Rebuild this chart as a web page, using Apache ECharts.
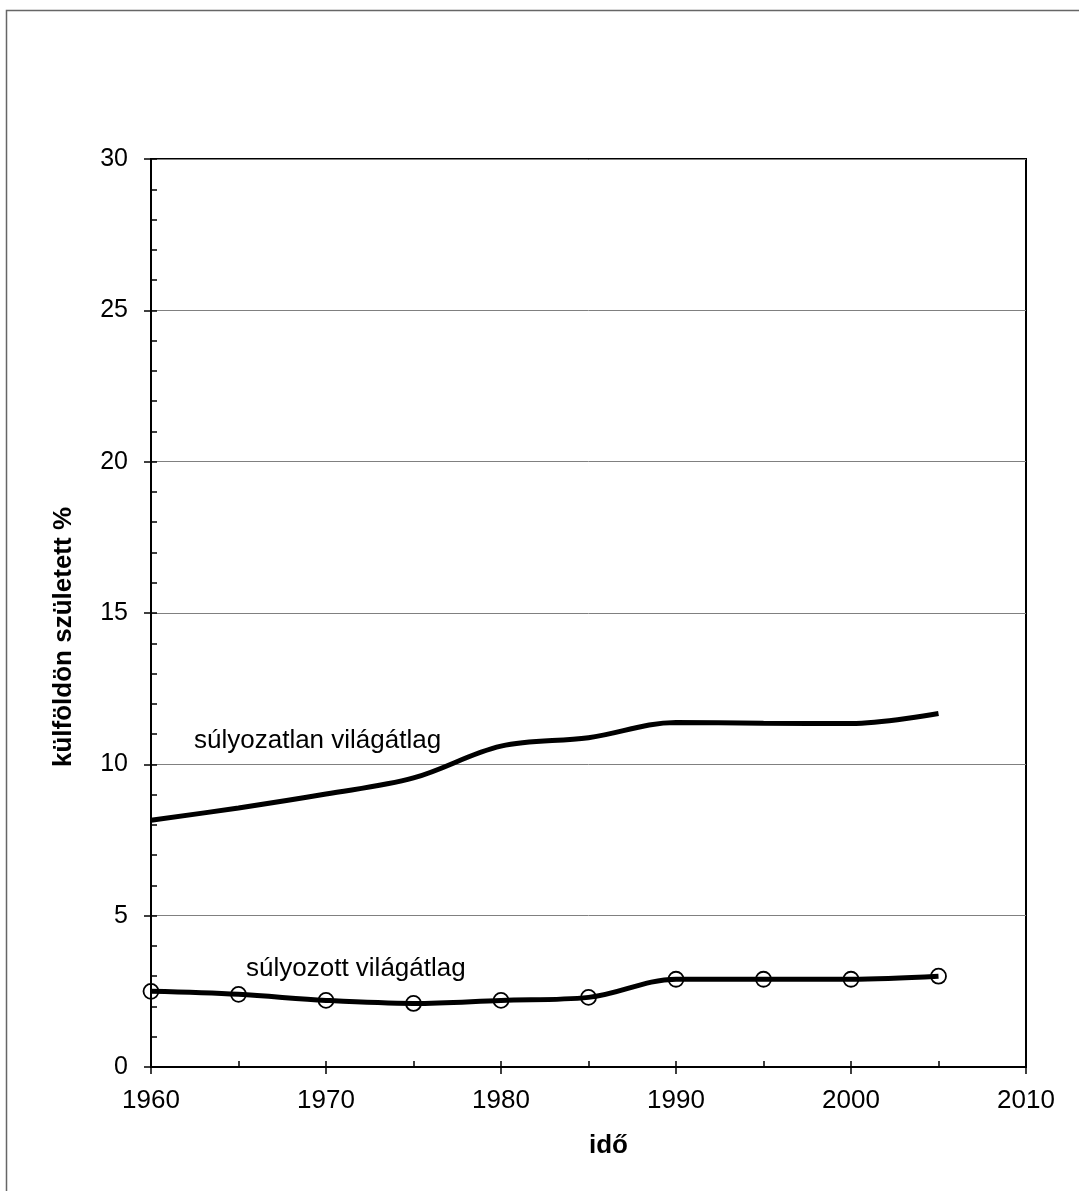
<!DOCTYPE html>
<html>
<head>
    <meta charset="utf-8">
    <script src="https://cdn.jsdelivr.net/npm/echarts@6/dist/echarts.min.js"></script>
    <style>body{margin:0;background:#fff;}</style>
</head>
<body>
    <div id="main" style="width: 1079px;height:1191px;"></div>
    <script type="text/javascript">

    var years = [1960, 1965, 1970, 1975, 1980, 1985, 1990, 1995, 2000, 2005];
    var unweighted = [8.15, 8.56, 9.02, 9.55, 10.6, 10.88, 11.38, 11.36, 11.35, 11.68];
    var weighted = [2.5, 2.4, 2.2, 2.1, 2.2, 2.3, 2.9, 2.9, 2.9, 3.0];
    var yTicks = [0, 5, 10, 15, 20, 25, 30];

    function pairs(vals) {
        return years.map(function (y, i) { return [y, vals[i]]; });
    }

    var font = 'Liberation Sans, Arial, sans-serif';
    var myChart = echarts.init(document.getElementById('main'));

    myChart.setOption({
        backgroundColor: '#fff',
        animation: false,
        grid: {
            left: 151, top: 159, width: 875, height: 908,
            show: true, borderColor: '#000', borderWidth: 2
        },
        xAxis: [{
            type: 'value', min: 1960, max: 2010, interval: 10,
            name: 'idő', nameLocation: 'middle', nameGap: 66, nameMoveOverlap: false,
            nameTextStyle: {fontFamily: font, fontSize: 26, fontWeight: 'bold', color: '#000', padding: [0, 0, 0, 40]},
            axisLine: {lineStyle: {color: '#000', width: 2}},
            axisTick: {inside: false, length: 7, lineStyle: {color: '#000', width: 1.5}},
            axisLabel: {fontFamily: font, fontSize: 26, color: '#000', margin: 21,
                formatter: function (v) { return String(v); }},
            splitLine: {show: false}
        }, {
            type: 'value', min: 1960, max: 2010, interval: 5, position: 'bottom',
            axisLine: {show: false},
            axisTick: {inside: true, length: 6, lineStyle: {color: '#000', width: 1.5}},
            axisLabel: {show: false},
            splitLine: {show: false}
        }],
        yAxis: [{
            type: 'value', min: yTicks[0], max: yTicks[yTicks.length - 1], interval: 5,
            name: 'külföldön született %', nameLocation: 'middle', nameGap: 74, nameRotate: 90,
            nameMoveOverlap: false,
            nameTextStyle: {fontFamily: font, fontSize: 26, fontWeight: 'bold', color: '#000', padding: [0, 48, 0, 0]},
            axisLine: {lineStyle: {color: '#000', width: 2}},
            axisTick: {inside: false, length: 7, lineStyle: {color: '#000', width: 1.5}},
            axisLabel: {fontFamily: font, fontSize: 25, color: '#000', margin: 23},
            splitLine: {lineStyle: {color: '#808080', width: 1}}
        }, {
            type: 'value', min: 0, max: 30, interval: 1, position: 'left',
            axisLine: {show: false},
            axisTick: {inside: true, length: 6, lineStyle: {color: '#000', width: 1.5}},
            axisLabel: {show: false},
            splitLine: {show: false}
        }],
        series: [{
            name: 'súlyozatlan világátlag',
            type: 'line', smooth: 0.35, showSymbol: false,
            lineStyle: {color: '#000', width: 5},
            data: pairs(unweighted)
        }, {
            name: 'súlyozott világátlag',
            type: 'line', smooth: 0.35,
            symbol: 'circle', symbolSize: 15,
            itemStyle: {color: 'rgba(0,0,0,0)', borderColor: '#000', borderWidth: 1.8},
            lineStyle: {color: '#000', width: 5},
            data: pairs(weighted)
        }],
        graphic: [{
            type: 'rect', left: 4, top: 8, z: -1,
            shape: {width: 1200, height: 1300},
            style: {fill: 'none', stroke: '#666', lineWidth: 1.5}
        }, {
            type: 'text', left: 194, top: 728,
            style: {text: 'súlyozatlan világátlag', font: '26px ' + font, fill: '#000'}
        }, {
            type: 'text', left: 246, top: 956,
            style: {text: 'súlyozott világátlag', font: '26px ' + font, fill: '#000'}
        }]
    });

</script>
</body>
</html>
